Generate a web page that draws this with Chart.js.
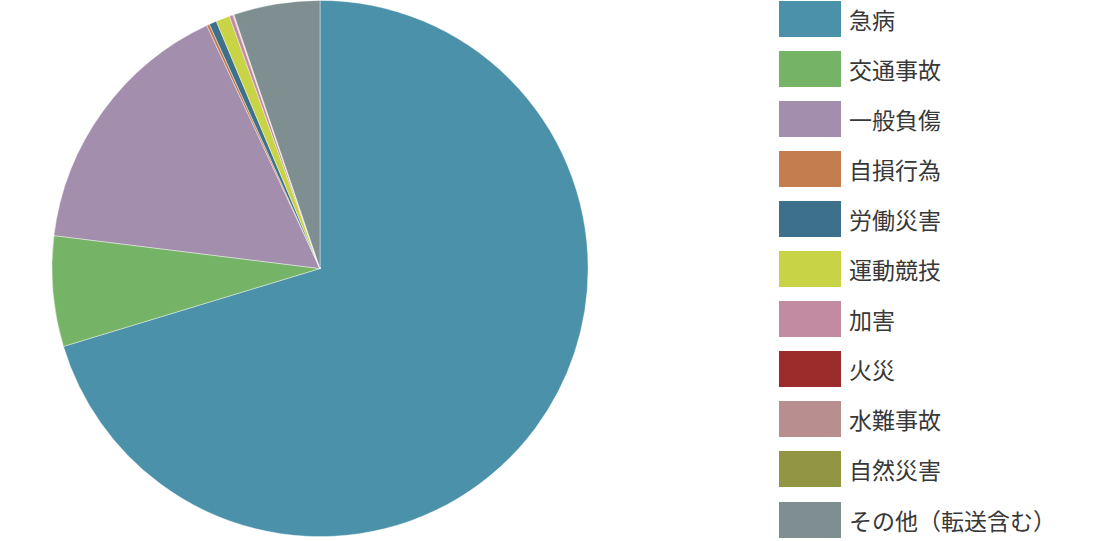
<!DOCTYPE html>
<html>
<head>
<meta charset="utf-8">
<script src="https://cdn.jsdelivr.net/npm/chart.js@4"></script>
<style>
  html, body { margin: 0; padding: 0; background: #ffffff; }
  #wrap { position: relative; width: 1098px; height: 541px; overflow: hidden; }
  #chartBox { position: absolute; left: 0; top: 0; width: 640px; height: 541px; }
  #legend { position: absolute; left: 779px; top: 0; margin: 0; padding: 0; list-style: none; }
  #legend li { position: absolute; left: 0; height: 36px; display: flex; align-items: center; white-space: nowrap; }
  #legend .sw { width: 62px; height: 36px; flex: none; }
  #legend .tx { margin-left: 8px; font-family: "Noto Sans CJK JP", "Noto Sans", sans-serif; font-size: 23px; color: #383838; line-height: 36px; }
</style>
</head>
<body>
<div id="wrap">
  <div id="chartBox"><canvas id="c"></canvas></div>
  <ul id="legend"></ul>
</div>
<script>
const categories = ["急病", "交通事故", "一般負傷", "自損行為", "労働災害", "運動競技", "加害", "火災", "水難事故", "自然災害", "その他（転送含む）"];
const shares = [70.3, 6.65, 16.1, 0.17, 0.45, 0.83, 0.22, 0.03, 0.03, 0.01, 5.2];
const colors = ["#4A91A9", "#75B466", "#A38EAD", "#C47D4F", "#3D718B", "#C8D446", "#C28BA1", "#9C2B2C", "#B98E8F", "#929541", "#7F8F91"];

new Chart(document.getElementById("c"), {
  type: "pie",
  data: {
    labels: categories,
    datasets: [{
      data: shares,
      backgroundColor: colors,
      borderColor: "rgba(255,255,255,0.5)",
      borderWidth: 0.8
    }]
  },
  options: {
    responsive: true,
    maintainAspectRatio: false,
    animation: false,
    layout: { padding: { top: 0, bottom: 4, left: 0, right: 0 } },
    plugins: {
      legend: { display: false },
      tooltip: { enabled: false }
    }
  }
});

const legend = document.getElementById("legend");
categories.forEach((name, i) => {
  const li = document.createElement("li");
  li.style.top = (0.5 + i * 50.1) + "px";
  const sw = document.createElement("span");
  sw.className = "sw";
  sw.style.background = colors[i];
  const tx = document.createElement("span");
  tx.className = "tx";
  tx.textContent = name;
  li.appendChild(sw);
  li.appendChild(tx);
  legend.appendChild(li);
});
</script>
</body>
</html>
